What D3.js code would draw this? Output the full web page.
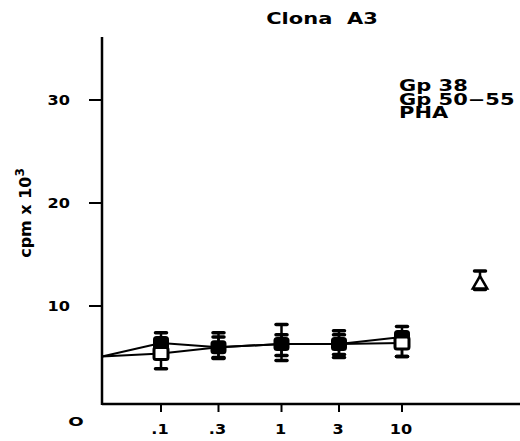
<!DOCTYPE html>
<html lang="en">
<head>
<meta charset="UTF-8">
<title>Clona A3</title>
<script src="https://d3js.org/d3.v7.min.js"></script>
<style>
  body { margin: 0; background: #fff; }
  text { font-family: "DejaVu Sans", sans-serif; font-weight: bold; fill: #000; }
</style>
</head>
<body>
<svg width="520" height="441"></svg>
<script>
// doses (x), control 0 is drawn on the y axis
var doses = [0.1, 0.3, 1, 3, 10];
var doseLabels = [".1", ".3", "1", "3", "10"];
var control = 5.1;

// Gp 38 (filled)
var gp38 = [6.4, 6.0, 6.3, 6.3, 7.0];
var gp38Hi = [7.4, 7.4, 8.2, 7.6, 8.0];
var gp38Lo = [5.3, 4.9, 4.7, 5.0, 5.1];

// Gp 50-55 (open)
var gp50 = [5.4, 6.0, 6.3, 6.3, 6.4];
var gp50Hi = [6.3, 7.0, 7.2, 7.2, 7.4];
var gp50Lo = [3.9, 5.0, 5.2, 5.3, 5.1];

// PHA
var pha = 12.2, phaHi = 13.4, phaLo = 11.6;

var yTicks = [10, 20, 30];
var legend = ["Gp 38", "Gp 50\u221255", "PHA"];

var svg = d3.select("svg");
var x = d3.scaleLog().domain([0.1, 10]).range([161, 402]);
var y = d3.scaleLinear().domain([0, 30]).range([409, 100]);
var x0 = 102, yBase = 404, phaX = 480;
var wide = 1.4, wideNum = 1.15; // the scanned font is wider than DejaVu

// axes
svg.append("line").attr("x1", x0).attr("x2", x0).attr("y1", 37).attr("y2", yBase + 1)
  .attr("stroke", "#000").attr("stroke-width", 2.5);
svg.append("line").attr("x1", x0).attr("x2", 520).attr("y1", yBase).attr("y2", yBase)
  .attr("stroke", "#000").attr("stroke-width", 2.5);

svg.selectAll("line.yt").data(yTicks).join("line").classed("yt", true)
  .attr("x1", x0 - 13).attr("x2", x0).attr("y1", d => y(d)).attr("y2", d => y(d))
  .attr("stroke", "#000").attr("stroke-width", 2);
svg.selectAll("text.yl").data(yTicks).join("text").classed("yl", true)
  .attr("transform", d => "translate(70," + (y(d) + 5) + ") scale(" + wideNum + ",1)")
  .attr("text-anchor", "end").attr("font-size", 14).text(d => d);
svg.append("text")
  .attr("transform", "translate(76,426) scale(" + wide + ",1)")
  .attr("text-anchor", "middle").attr("font-size", 13).text("O");

svg.selectAll("line.xt").data(doses).join("line").classed("xt", true)
  .attr("x1", d => x(d)).attr("x2", d => x(d)).attr("y1", yBase).attr("y2", yBase + 8)
  .attr("stroke", "#000").attr("stroke-width", 2);
svg.selectAll("text.xl").data(doses).join("text").classed("xl", true)
  .attr("transform", d => "translate(" + (x(d) - 1) + ",434) scale(" + wideNum + ",1)")
  .attr("text-anchor", "middle").attr("font-size", 14).text((d, i) => doseLabels[i]);

// title, y label, legend
svg.append("text")
  .attr("transform", "translate(322,24) scale(" + wide + ",1)")
  .attr("text-anchor", "middle").attr("font-size", 15)
  .attr("xml:space", "preserve").text("Clona  A3");
svg.append("text").attr("transform", "translate(31,213) rotate(-90)")
  .attr("text-anchor", "middle").attr("font-size", 16)
  .html('cpm x 10<tspan dy="-7" font-size="12">3</tspan>');
svg.selectAll("text.lg").data(legend).join("text").classed("lg", true)
  .attr("transform", (d, i) => "translate(399," + [91, 105, 118][i] + ") scale(" + wide + ",1)")
  .attr("font-size", 15).text(d => d);

// lines
function pts(vals) {
  return [[x0, y(control)]].concat(doses.map((d, i) => [x(d), y(vals[i])]));
}
var line = d3.line();
[gp38, gp50].forEach(function (vals) {
  svg.append("path").attr("d", line(pts(vals))).attr("fill", "none")
    .attr("stroke", "#000").attr("stroke-width", 2);
});

// error bars
function errBars(xs, hi, lo) {
  var g = svg.append("g");
  xs.forEach(function (xv, i) {
    g.append("line").attr("x1", xv).attr("x2", xv).attr("y1", y(hi[i])).attr("y2", y(lo[i]))
      .attr("stroke", "#000").attr("stroke-width", 2.5);
    [hi[i], lo[i]].forEach(function (v) {
      g.append("line").attr("x1", xv - 5.5).attr("x2", xv + 5.5).attr("y1", y(v)).attr("y2", y(v))
        .attr("stroke", "#000").attr("stroke-width", 3.5).attr("stroke-linecap", "round");
    });
  });
}
errBars(doses.map(x), gp38Hi, gp38Lo);
errBars(doses.map(x), gp50Hi, gp50Lo);
errBars([phaX], [phaHi], [phaLo]);

// markers: filled first, open squares over them
svg.selectAll("rect.fill").data(gp38).join("rect").classed("fill", true)
  .attr("x", (d, i) => x(doses[i]) - 8).attr("y", d => y(d) - 7)
  .attr("width", 16).attr("height", 14).attr("rx", 3.5)
  .attr("fill", "#000");
svg.selectAll("rect.open").data(gp50).join("rect").classed("open", true)
  .attr("x", (d, i) => x(doses[i]) - 7).attr("y", d => y(d) - 6)
  .attr("width", 14).attr("height", 12).attr("rx", 2)
  .attr("fill", "#fff").attr("stroke", "#000").attr("stroke-width", 3)
  .attr("display", (d, i) => i === 0 || i === 4 ? null : "none");

svg.append("path").attr("d", d3.symbol(d3.symbolTriangle, 90)())
  .attr("transform", "translate(" + phaX + "," + (y(pha) + 1) + ")")
  .attr("fill", "#fff").attr("stroke", "#000").attr("stroke-width", 2.5);
</script>
</body>
</html>
